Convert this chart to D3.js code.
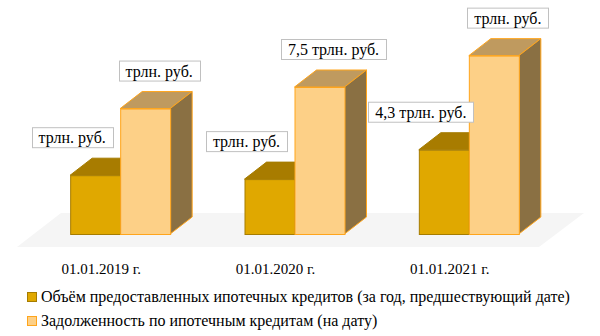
<!DOCTYPE html>
<html>
<head>
<meta charset="utf-8">
<script src="https://cdnjs.cloudflare.com/ajax/libs/d3/7.8.5/d3.min.js"></script>
</head>
<body style="margin:0; background:#fff">
<div id="chart"></div>
<script>
    var categories = ["01.01.2019 г.", "01.01.2020 г.", "01.01.2021 г."];
    var issued = [3.0, 2.8, 4.3];      // Объём предоставленных ипотечных кредитов
    var debt = [6.4, 7.5, 9.1];        // Задолженность по ипотечным кредитам
    var issuedLabels = ["трлн. руб.", "трлн. руб.", "4,3 трлн. руб."];
    var debtLabels = ["трлн. руб.", "7,5 трлн. руб.", "трлн. руб."];
    var seriesNames = [
        "Объём предоставленных ипотечных кредитов (за год, предшествующий дате)",
        "Задолженность по ипотечным кредитам (на дату)"
    ];

    var width = 600;
    var height = 336;
    var barWidth = 50;
    var depthX = 22;
    var depthY = 17;
    var font = "Liberation Serif";

    var svg = d3.select("#chart").append("svg")
        .attr("width", width)
        .attr("height", height);

    var x = d3.scaleBand()
        .domain(categories)
        .range([33, 556]);

    var y = d3.scaleLinear()
        .domain([0, 10])
        .range([234, 38]);

    var styles = [
        { front: "#e0a800", stroke: "#a67c00", top: "#a87c00", side: "#8a6a00" },
        { front: "#fdd087", stroke: "#ffa51c", top: "#bf9a5f", side: "#8a7043" }
    ];

    // floor
    var x0 = x.range()[0], x1 = x.range()[1];
    var fy = y(0);
    svg.append("polygon")
        .attr("points", [
            [x0 - 16, fy + 13], [x1 - 17, fy + 13],
            [x1 + 28, fy - 21], [x0 + 28, fy - 21]
        ].map(function (p) { return p.join(","); }).join(" "))
        .attr("fill", "#f5f5f5");

    function cx(d, i) { return x(categories[i]) + x.bandwidth() / 2; }

    function drawBar(g, left, value, st) {
        var top = y(value), bottom = y(0), right = left + barWidth;
        g.append("polygon")
            .attr("points", [[left, top], [left + depthX, top - depthY], [right + depthX, top - depthY], [right, top]].join(" "))
            .attr("fill", st.top).attr("stroke", st.stroke).attr("stroke-width", 1);
        g.append("polygon")
            .attr("points", [[right, top], [right + depthX, top - depthY], [right + depthX, bottom - depthY], [right, bottom]].join(" "))
            .attr("fill", st.side).attr("stroke", st.stroke).attr("stroke-width", 1);
        g.append("rect")
            .attr("x", left + 0.5).attr("y", top + 0.5)
            .attr("width", barWidth).attr("height", bottom - top)
            .attr("fill", st.front).attr("stroke", st.stroke).attr("stroke-width", 1);
    }

    var groups = svg.selectAll(".grp")
        .data(categories)
        .enter().append("g")
        .attr("class", "grp");

    groups.each(function (d, i) {
        var g = d3.select(this);
        var c = cx(d, i);
        drawBar(g, c - barWidth, issued[i], styles[0]);
        drawBar(g, c, debt[i], styles[1]);
    });

    // value labels
    function drawLabel(text, centerX, bottomY) {
        var g = svg.append("g");
        var t = g.append("text")
            .attr("x", centerX)
            .attr("y", bottomY - 5)
            .attr("text-anchor", "middle")
            .attr("font-family", font)
            .attr("font-size", 16)
            .text(text);
        var w = t.node().getComputedTextLength();
        g.insert("rect", "text")
            .attr("x", Math.round(centerX - w / 2 - 7) + 0.5)
            .attr("y", bottomY - 20.5)
            .attr("width", Math.round(w + 14))
            .attr("height", 20)
            .attr("fill", "#fff")
            .attr("stroke", "#c0c0c0")
            .attr("stroke-width", 1);
    }

    categories.forEach(function (d, i) {
        var c = cx(d, i);
        drawLabel(issuedLabels[i], c - barWidth / 2 - 23, y(issued[i]) - depthY - 10);
        drawLabel(debtLabels[i], c + barWidth / 2 + 14, y(debt[i]) - depthY - 10);
    });

    // category labels
    svg.selectAll(".cat")
        .data(categories)
        .enter().append("text")
        .attr("class", "cat")
        .attr("x", function (d, i) { return cx(d, i) - 19; })
        .attr("y", 274)
        .attr("text-anchor", "middle")
        .attr("font-family", font)
        .attr("font-size", 15)
        .text(function (d) { return d; });

    // legend
    var legend = svg.selectAll(".legend")
        .data(seriesNames)
        .enter().append("g")
        .attr("class", "legend")
        .attr("transform", function (d, i) { return "translate(27," + (292 + i * 24) + ")"; });

    legend.append("rect")
        .attr("x", 0.5).attr("y", 0.5)
        .attr("width", 9).attr("height", 9)
        .attr("fill", function (d, i) { return styles[i].front; })
        .attr("stroke", function (d, i) { return styles[i].stroke; });

    legend.append("text")
        .attr("x", 14)
        .attr("y", 9.5)
        .attr("font-family", font)
        .attr("font-size", 16)
        .text(function (d) { return d; });
</script>
</body>
</html>
